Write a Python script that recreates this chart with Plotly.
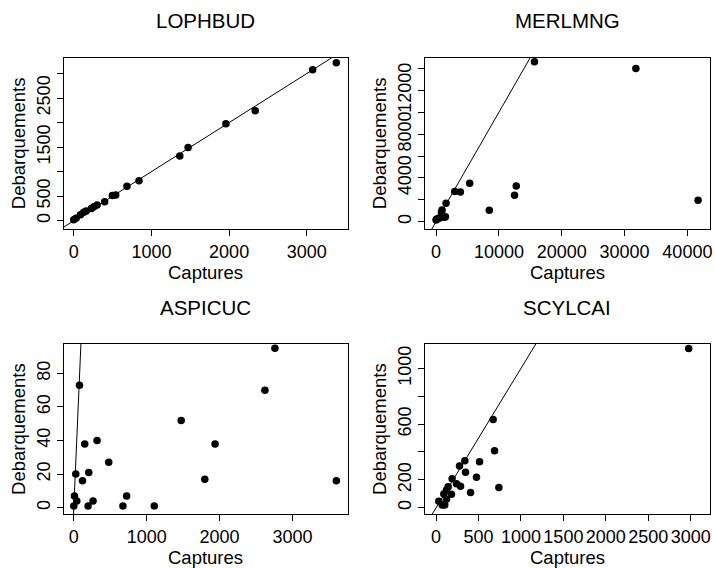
import plotly.graph_objects as go

# ---- data ----
lophbud_cap = [0, 30, 86, 128, 160, 227, 260, 300, 398, 497, 540, 685, 840, 1365, 1472, 1959, 2336, 3076, 3380]
lophbud_deb = [20, 50, 120, 170, 200, 250, 285, 320, 386, 516, 525, 700, 815, 1321, 1491, 1978, 2243, 3076, 3218]

merlmng_cap = [15660, 31800, 41700, 12760, 12490, 8470, 5350, 3870, 2970, 1590, 950, 860, 1490, 1330, 430, 50, 10, 200, 600]
merlmng_deb = [14610, 14000, 1960, 3250, 2420, 1040, 3520, 2700, 2750, 1690, 1070, 860, 460, 400, 310, 220, 150, 250, 350]

aspicuc_cap = [2759, 2622, 1473, 1938, 1797, 3602, 1104, 725, 674, 479, 319, 150, 205, 119, 78, 27, 9, 41, 0, 196, 264]
aspicuc_deb = [95, 70, 52, 38, 17, 16, 1, 7, 1, 27, 40, 38, 21, 16, 73, 20, 7, 4, 1, 1, 4]

scylcai_cap = [2977, 672, 689, 740, 512, 476, 406, 339, 347, 276, 288, 240, 189, 181, 142, 122, 122, 91, 32, 71, 102]
scylcai_deb = [1143, 634, 409, 146, 330, 218, 110, 337, 254, 299, 154, 172, 208, 96, 151, 127, 60, 98, 46, 19, 19]

titles = ["LOPHBUD", "MERLMNG", "ASPICUC", "SCYLCAI"]
x_label = "Captures"
y_label = "Debarquements"

x_ticks = [[0, 1000, 2000, 3000],
           [0, 10000, 20000, 30000, 40000],
           [0, 1000, 2000, 3000],
           [0, 500, 1000, 1500, 2000, 2500, 3000]]
y_ticks = [[0, 500, 1000, 1500, 2000, 2500, 3000],
           [0, 2000, 4000, 6000, 8000, 10000, 12000, 14000],
           [0, 20, 40, 60, 80],
           [0, 200, 400, 600, 800, 1000]]
y_ticktext = [["0", "500", "", "1500", "", "2500", ""],
              ["0", "", "4000", "", "8000", "", "12000", ""],
              ["0", "20", "40", "60", "80"],
              ["0", "200", "", "600", "", "1000"]]

# ---- layout geometry ----
W, H = 715, 568
boxes = [  # (left, right, top, bottom) in px
    (64, 349, 57.5, 229),
    (426, 712, 57.5, 229),
    (64, 349, 344, 514),
    (426, 712, 344, 514),
]
x_ranges = [[-128, 3531], [-1794, 43600], [-137, 3762], [-133, 3228]]
y_ranges = [[-169, 3327], [-670, 15000], [-3.75, 97.5], [-45, 1175]]

data = [(lophbud_cap, lophbud_deb), (merlmng_cap, merlmng_deb),
        (aspicuc_cap, aspicuc_deb), (scylcai_cap, scylcai_deb)]

FONT = "Liberation Sans, Arial, sans-serif"
fig = go.Figure()
annotations = []
layout = {}
for i, ((cx, cy), (l, r, t, b)) in enumerate(zip(data, boxes)):
    n = "" if i == 0 else str(i + 1)
    xa, ya = "x" + n, "y" + n
    fig.add_trace(go.Scatter(x=cx, y=cy, mode="markers", xaxis=xa, yaxis=ya,
                             marker=dict(color="black", size=7.5), cliponaxis=True,
                             showlegend=False, hoverinfo="x+y"))
    lo = min(x_ranges[i][0], y_ranges[i][0])
    hi = max(x_ranges[i][1], y_ranges[i][1])
    fig.add_trace(go.Scatter(x=[lo, hi], y=[lo, hi], mode="lines", xaxis=xa, yaxis=ya,
                             line=dict(color="black", width=1), showlegend=False,
                             hoverinfo="skip"))
    common = dict(showgrid=False, zeroline=False, showline=True, mirror=True,
                  linecolor="black", linewidth=1, ticks="outside", ticklen=6,
                  tickcolor="black", tickwidth=1,
                  tickfont=dict(family=FONT, size=18, color="black"))
    layout["xaxis" + n] = dict(domain=[l / W, r / W], range=x_ranges[i], anchor=ya,
                               tickmode="array", tickvals=x_ticks[i],
                               ticktext=[str(v) for v in x_ticks[i]], tickangle=0,
                               **common)
    layout["yaxis" + n] = dict(domain=[1 - b / H, 1 - t / H], range=y_ranges[i], anchor=xa,
                               tickmode="array", tickvals=y_ticks[i],
                               ticktext=y_ticktext[i], tickangle=-90, **common)
    cxp = (l + r) / 2
    annotations.append(dict(text=titles[i], x=cxp / W, y=1 - (t - 37) / H, xref="paper", yref="paper",
                            showarrow=False, xanchor="center", yanchor="middle",
                            font=dict(family=FONT, size=20.5, color="black")))
    annotations.append(dict(text=x_label, x=cxp / W, y=1 - (b + 43) / H, xref="paper", yref="paper",
                            showarrow=False, xanchor="center", yanchor="middle",
                            font=dict(family=FONT, size=18.5, color="black")))
    annotations.append(dict(text=y_label, x=(l - 46) / W, y=1 - ((t + b) / 2) / H, xref="paper",
                            yref="paper", showarrow=False, xanchor="center", yanchor="middle",
                            textangle=-90, font=dict(family=FONT, size=18.5, color="black")))

fig.update_layout(width=W, height=H, margin=dict(l=0, r=0, t=0, b=0),
                  paper_bgcolor="white", plot_bgcolor="white",
                  annotations=annotations, **layout)
fig.write_html("out.html")
